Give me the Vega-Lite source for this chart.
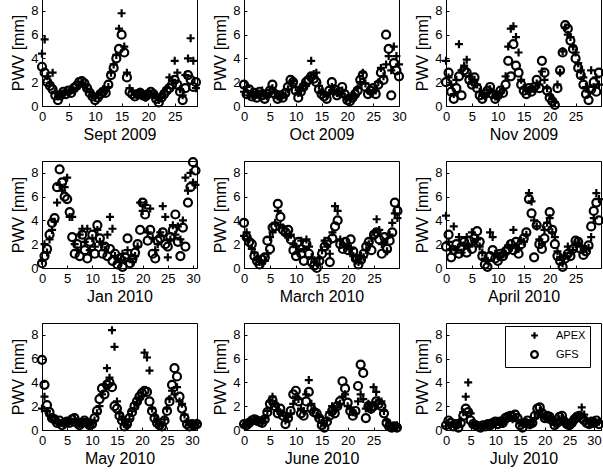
{
"$schema":"https://vega.github.io/schema/vega-lite/v6.json",
"background":"white",
"padding":{"left":10,"top":-2,"right":0,"bottom":0},
"columns":3,
"spacing":{"row":55,"column":47},
"bounds":"flush",
"resolve":{"scale":{"shape":"independent"},"legend":{"shape":"independent"}},
"datasets":{
"s1":[{"t":0,"a":4.4,"g":3.3},{"t":0.5,"a":5.6,"g":2.8},{"t":1,"a":2.5,"g":2.0},{"t":1.5,"a":1.9,"g":1.7},{"t":2,"a":2.8,"g":1.4},{"t":2.5,"a":1.2,"g":0.9},{"t":3,"a":0.8,"g":0.5},{"t":3.5,"a":1.1,"g":0.9},{"t":4,"a":1.0,"g":1.2},{"t":4.5,"a":1.3,"g":1.0},{"t":5,"a":1.1,"g":1.3},{"t":5.5,"a":1.4,"g":1.1},{"t":6,"a":1.3,"g":1.5},{"t":6.5,"a":1.5,"g":1.7},{"t":7,"a":1.8,"g":2.0},{"t":7.5,"a":1.9,"g":2.1},{"t":8,"a":1.7,"g":1.9},{"t":8.5,"a":1.4,"g":1.5},{"t":9,"a":1.2,"g":1.1},{"t":9.5,"a":0.9,"g":0.8},{"t":10,"a":0.7,"g":0.5},{"t":10.5,"a":0.9,"g":0.7},{"t":11,"a":1.2,"g":1.0},{"t":11.5,"a":1.4,"g":1.2},{"t":12,"a":1.3,"g":1.1},{"t":12.5,"a":1.6,"g":1.8},{"t":13,"a":2.8,"g":2.6},{"t":13.5,"a":3.5,"g":3.2},{"t":14,"a":4.3,"g":4.0},{"t":14.5,"a":6.5,"g":4.8},{"t":15,"a":7.8,"g":6.0},{"t":15.5,"a":5.0,"g":4.5},{"t":16,"a":2.8,"g":2.4},{"t":16.5,"a":1.5,"g":1.2},{"t":17,"a":1.2,"g":1.0},{"t":17.5,"a":1.0,"g":0.8},{"t":18,"a":0.9,"g":1.0},{"t":18.5,"a":1.2,"g":1.1},{"t":19,"a":1.0,"g":0.9},{"t":19.5,"a":0.7,"g":0.8},{"t":20,"a":1.1,"g":1.0},{"t":20.5,"a":1.0,"g":1.2},{"t":21,"a":0.9,"g":1.0},{"t":21.5,"a":0.8,"g":0.6},{"t":22,"a":0.5,"g":0.3},{"t":22.5,"a":0.8,"g":0.7},{"t":23,"a":1.2,"g":1.0},{"t":23.5,"a":1.5,"g":1.3},{"t":24,"a":2.4,"g":1.5},{"t":24.5,"a":2.2,"g":1.8},{"t":25,"a":3.8,"g":2.2},{"t":25.5,"a":2.8,"g":1.8},{"t":26,"a":1.4,"g":1.2},{"t":26.5,"a":0.9,"g":0.5},{"t":27,"a":2.6,"g":1.5},{"t":27.5,"a":4.0,"g":2.6},{"t":28,"a":5.7,"g":2.2},{"t":28.5,"a":3.8,"g":1.6},{"t":29,"a":1.5,"g":2.0}],
"s2":[{"t":0,"a":1.2,"g":1.8},{"t":0.5,"a":1.6,"g":1.0},{"t":1,"a":0.9,"g":1.4},{"t":1.5,"a":1.2,"g":0.8},{"t":2,"a":0.7,"g":1.1},{"t":2.5,"a":1.0,"g":0.7},{"t":3,"a":0.8,"g":1.2},{"t":3.5,"a":1.3,"g":0.9},{"t":4,"a":0.9,"g":0.6},{"t":4.5,"a":0.8,"g":1.0},{"t":5,"a":1.1,"g":1.3},{"t":5.5,"a":1.5,"g":1.8},{"t":6,"a":1.2,"g":1.0},{"t":6.5,"a":0.8,"g":0.6},{"t":7,"a":0.7,"g":0.9},{"t":7.5,"a":1.0,"g":0.7},{"t":8,"a":0.9,"g":1.1},{"t":8.5,"a":1.4,"g":1.6},{"t":9,"a":1.9,"g":2.2},{"t":9.5,"a":2.1,"g":2.0},{"t":10,"a":1.6,"g":1.3},{"t":10.5,"a":1.1,"g":0.7},{"t":11,"a":1.4,"g":1.2},{"t":11.5,"a":1.8,"g":1.6},{"t":12,"a":1.7,"g":2.0},{"t":12.5,"a":2.4,"g":2.2},{"t":13,"a":3.8,"g":2.5},{"t":13.5,"a":2.7,"g":2.3},{"t":14,"a":2.8,"g":2.0},{"t":14.5,"a":1.7,"g":1.4},{"t":15,"a":1.2,"g":1.0},{"t":15.5,"a":1.0,"g":0.8},{"t":16,"a":0.9,"g":0.6},{"t":16.5,"a":1.1,"g":1.3},{"t":17,"a":1.6,"g":2.0},{"t":17.5,"a":1.2,"g":1.4},{"t":18,"a":1.1,"g":0.9},{"t":18.5,"a":1.0,"g":1.2},{"t":19,"a":1.3,"g":1.6},{"t":19.5,"a":0.8,"g":1.0},{"t":20,"a":0.7,"g":0.5},{"t":20.5,"a":0.6,"g":0.4},{"t":21,"a":0.9,"g":0.7},{"t":21.5,"a":0.8,"g":1.0},{"t":22,"a":1.5,"g":1.3},{"t":22.5,"a":2.0,"g":2.2},{"t":23,"a":2.8,"g":2.6},{"t":23.5,"a":1.9,"g":1.6},{"t":24,"a":1.3,"g":1.0},{"t":24.5,"a":1.1,"g":1.3},{"t":25,"a":1.2,"g":1.5},{"t":25.5,"a":1.3,"g":1.0},{"t":26,"a":2.0,"g":1.8},{"t":26.5,"a":3.2,"g":2.8},{"t":27,"a":2.5,"g":2.2},{"t":27.5,"a":3.5,"g":6.0},{"t":28,"a":4.2,"g":4.8},{"t":28.5,"a":3.0,"g":0.9},{"t":29,"a":5.0,"g":3.6},{"t":29.5,"a":4.2,"g":3.0},{"t":30,"a":3.5,"g":2.5}],
"s3":[{"t":0,"a":3.8,"g":2.0},{"t":0.5,"a":2.4,"g":2.8},{"t":1,"a":1.8,"g":1.2},{"t":1.5,"a":1.0,"g":0.6},{"t":2,"a":2.2,"g":1.5},{"t":2.5,"a":5.2,"g":2.5},{"t":3,"a":3.0,"g":0.9},{"t":3.5,"a":3.4,"g":3.0},{"t":4,"a":3.9,"g":2.8},{"t":4.5,"a":2.5,"g":2.2},{"t":5,"a":2.0,"g":1.8},{"t":5.5,"a":2.2,"g":2.4},{"t":6,"a":1.8,"g":1.5},{"t":6.5,"a":1.2,"g":0.9},{"t":7,"a":0.9,"g":0.6},{"t":7.5,"a":0.8,"g":1.0},{"t":8,"a":1.1,"g":1.3},{"t":8.5,"a":1.4,"g":1.6},{"t":9,"a":1.2,"g":1.0},{"t":9.5,"a":0.8,"g":0.6},{"t":10,"a":0.7,"g":0.9},{"t":10.5,"a":1.1,"g":1.3},{"t":11,"a":1.4,"g":1.1},{"t":11.5,"a":2.5,"g":1.8},{"t":12,"a":5.0,"g":3.8},{"t":12.5,"a":6.5,"g":2.5},{"t":13,"a":6.7,"g":5.2},{"t":13.5,"a":5.8,"g":3.4},{"t":14,"a":4.5,"g":2.8},{"t":14.5,"a":2.2,"g":1.8},{"t":15,"a":1.5,"g":1.3},{"t":15.5,"a":1.3,"g":1.0},{"t":16,"a":1.2,"g":1.5},{"t":16.5,"a":1.6,"g":1.2},{"t":17,"a":1.4,"g":1.6},{"t":17.5,"a":1.9,"g":2.2},{"t":18,"a":1.8,"g":1.5},{"t":18.5,"a":2.9,"g":3.8},{"t":19,"a":2.2,"g":2.8},{"t":19.5,"a":1.5,"g":1.3},{"t":20,"a":0.9,"g":0.7},{"t":20.5,"a":0.6,"g":0.4},{"t":21,"a":0.3,"g":0.1},{"t":21.5,"a":1.8,"g":1.5},{"t":22,"a":2.8,"g":3.0},{"t":22.5,"a":4.6,"g":4.5},{"t":23,"a":6.6,"g":6.8},{"t":23.5,"a":6.0,"g":6.5},{"t":24,"a":5.8,"g":5.5},{"t":24.5,"a":5.0,"g":4.8},{"t":25,"a":4.5,"g":4.0},{"t":25.5,"a":3.6,"g":3.2},{"t":26,"a":3.0,"g":2.6},{"t":26.5,"a":2.4,"g":1.8},{"t":27,"a":1.6,"g":1.0},{"t":27.5,"a":1.2,"g":0.5},{"t":28,"a":3.0,"g":1.4},{"t":28.5,"a":1.6,"g":2.0},{"t":29,"a":2.4,"g":1.2},{"t":29.5,"a":1.8,"g":2.8}],
"s4":[{"t":0,"a":0.6,"g":0.4},{"t":0.5,"a":2.0,"g":1.0},{"t":1,"a":1.3,"g":1.6},{"t":1.5,"a":2.4,"g":2.8},{"t":2,"a":3.2,"g":3.8},{"t":2.5,"a":3.9,"g":4.2},{"t":3,"a":5.5,"g":6.8},{"t":3.5,"a":7.0,"g":8.3},{"t":4,"a":6.5,"g":7.2},{"t":4.5,"a":6.8,"g":6.0},{"t":5,"a":7.6,"g":5.8},{"t":5.5,"a":4.3,"g":4.7},{"t":6,"a":4.3,"g":2.6},{"t":6.5,"a":2.0,"g":1.2},{"t":7,"a":1.5,"g":2.0},{"t":7.5,"a":2.8,"g":1.0},{"t":8,"a":3.3,"g":2.8},{"t":8.5,"a":2.2,"g":1.5},{"t":9,"a":3.3,"g":0.8},{"t":9.5,"a":1.5,"g":2.2},{"t":10,"a":2.5,"g":2.8},{"t":10.5,"a":1.8,"g":1.2},{"t":11,"a":3.2,"g":3.6},{"t":11.5,"a":2.2,"g":2.5},{"t":12,"a":2.0,"g":1.2},{"t":12.5,"a":1.5,"g":1.8},{"t":13,"a":2.8,"g":1.0},{"t":13.5,"a":4.3,"g":1.6},{"t":14,"a":3.3,"g":0.6},{"t":14.5,"a":1.0,"g":1.2},{"t":15,"a":0.8,"g":0.3},{"t":15.5,"a":0.5,"g":0.8},{"t":16,"a":1.2,"g":0.1},{"t":16.5,"a":0.6,"g":0.9},{"t":17,"a":1.5,"g":2.5},{"t":17.5,"a":0.8,"g":0.4},{"t":18,"a":0.5,"g":0.8},{"t":18.5,"a":1.0,"g":1.3},{"t":19,"a":1.8,"g":2.0},{"t":19.5,"a":5.5,"g":3.2},{"t":20,"a":4.8,"g":5.5},{"t":20.5,"a":5.3,"g":4.5},{"t":21,"a":3.0,"g":2.3},{"t":21.5,"a":5.0,"g":3.2},{"t":22,"a":2.5,"g":1.2},{"t":22.5,"a":1.5,"g":0.8},{"t":23,"a":2.0,"g":2.3},{"t":23.5,"a":3.0,"g":2.5},{"t":24,"a":5.2,"g":3.0},{"t":24.5,"a":4.3,"g":2.0},{"t":25,"a":0.9,"g":1.8},{"t":25.5,"a":2.4,"g":2.6},{"t":26,"a":3.6,"g":3.2},{"t":26.5,"a":2.8,"g":4.5},{"t":27,"a":3.5,"g":2.2},{"t":27.5,"a":2.4,"g":1.0},{"t":28,"a":4.0,"g":3.4},{"t":28.5,"a":7.6,"g":1.8},{"t":29,"a":6.5,"g":5.5},{"t":29.5,"a":8.0,"g":6.8},{"t":30,"a":7.2,"g":8.9},{"t":30.5,"a":7.0,"g":8.2}],
"s5":[{"t":0,"a":2.7,"g":3.8},{"t":0.5,"a":3.0,"g":2.6},{"t":1,"a":2.4,"g":2.2},{"t":1.5,"a":1.6,"g":2.0},{"t":2,"a":1.3,"g":1.0},{"t":2.5,"a":0.8,"g":0.6},{"t":3,"a":0.5,"g":0.3},{"t":3.5,"a":0.4,"g":0.7},{"t":4,"a":0.6,"g":0.9},{"t":4.5,"a":1.2,"g":2.3},{"t":5,"a":2.6,"g":1.6},{"t":5.5,"a":3.0,"g":3.4},{"t":6,"a":3.8,"g":3.5},{"t":6.5,"a":4.8,"g":5.4},{"t":7,"a":3.6,"g":4.3},{"t":7.5,"a":3.4,"g":3.2},{"t":8,"a":2.8,"g":3.0},{"t":8.5,"a":2.6,"g":3.2},{"t":9,"a":2.8,"g":2.4},{"t":9.5,"a":2.0,"g":1.5},{"t":10,"a":1.8,"g":1.0},{"t":10.5,"a":1.4,"g":2.2},{"t":11,"a":2.3,"g":1.2},{"t":11.5,"a":1.6,"g":0.6},{"t":12,"a":2.4,"g":2.0},{"t":12.5,"a":1.8,"g":1.2},{"t":13,"a":0.9,"g":0.5},{"t":13.5,"a":0.5,"g":0.2},{"t":14,"a":0.4,"g":0.0},{"t":14.5,"a":0.8,"g":0.6},{"t":15,"a":1.5,"g":1.2},{"t":15.5,"a":2.3,"g":1.8},{"t":16,"a":1.8,"g":2.2},{"t":16.5,"a":1.2,"g":0.5},{"t":17,"a":3.0,"g":2.5},{"t":17.5,"a":5.2,"g":3.5},{"t":18,"a":4.8,"g":4.0},{"t":18.5,"a":2.4,"g":2.0},{"t":19,"a":2.0,"g":1.6},{"t":19.5,"a":1.8,"g":2.2},{"t":20,"a":1.9,"g":1.5},{"t":20.5,"a":1.6,"g":2.4},{"t":21,"a":1.0,"g":1.4},{"t":21.5,"a":0.6,"g":0.8},{"t":22,"a":0.5,"g":0.3},{"t":22.5,"a":1.0,"g":0.7},{"t":23,"a":0.9,"g":1.2},{"t":23.5,"a":1.5,"g":1.8},{"t":24,"a":2.0,"g":2.2},{"t":24.5,"a":2.5,"g":1.5},{"t":25,"a":3.0,"g":2.8},{"t":25.5,"a":4.1,"g":3.0},{"t":26,"a":3.2,"g":2.4},{"t":26.5,"a":2.0,"g":1.2},{"t":27,"a":2.2,"g":2.6},{"t":27.5,"a":1.4,"g":1.6},{"t":28,"a":2.8,"g":2.3},{"t":28.5,"a":3.8,"g":3.0},{"t":29,"a":4.6,"g":5.5},{"t":29.5,"a":4.2,"g":4.8}],
"s6":[{"t":0,"a":4.4,"g":1.8},{"t":0.5,"a":2.2,"g":2.8},{"t":1,"a":1.6,"g":0.9},{"t":1.5,"a":3.5,"g":1.5},{"t":2,"a":1.5,"g":2.0},{"t":2.5,"a":2.6,"g":1.2},{"t":3,"a":1.3,"g":1.8},{"t":3.5,"a":1.9,"g":2.2},{"t":4,"a":2.6,"g":1.3},{"t":4.5,"a":1.8,"g":2.3},{"t":5,"a":3.0,"g":1.6},{"t":5.5,"a":2.2,"g":2.5},{"t":6,"a":2.4,"g":3.1},{"t":6.5,"a":1.8,"g":2.2},{"t":7,"a":1.3,"g":1.0},{"t":7.5,"a":0.8,"g":0.3},{"t":8,"a":0.6,"g":0.1},{"t":8.5,"a":3.0,"g":1.0},{"t":9,"a":2.6,"g":1.5},{"t":9.5,"a":1.2,"g":0.8},{"t":10,"a":1.0,"g":0.6},{"t":10.5,"a":0.9,"g":1.2},{"t":11,"a":1.3,"g":1.0},{"t":11.5,"a":1.2,"g":1.4},{"t":12,"a":1.9,"g":1.6},{"t":12.5,"a":1.7,"g":2.0},{"t":13,"a":3.2,"g":1.5},{"t":13.5,"a":1.8,"g":2.2},{"t":14,"a":1.6,"g":1.2},{"t":14.5,"a":2.3,"g":2.0},{"t":15,"a":2.2,"g":2.5},{"t":15.5,"a":2.8,"g":3.0},{"t":16,"a":6.3,"g":5.8},{"t":16.5,"a":5.6,"g":4.6},{"t":17,"a":4.0,"g":0.9},{"t":17.5,"a":3.5,"g":3.6},{"t":18,"a":2.4,"g":2.0},{"t":18.5,"a":2.0,"g":1.6},{"t":19,"a":3.2,"g":2.5},{"t":19.5,"a":3.8,"g":3.5},{"t":20,"a":4.2,"g":4.7},{"t":20.5,"a":3.0,"g":3.2},{"t":21,"a":2.6,"g":2.0},{"t":21.5,"a":1.4,"g":1.0},{"t":22,"a":0.9,"g":0.6},{"t":22.5,"a":0.4,"g":0.1},{"t":23,"a":1.0,"g":0.8},{"t":23.5,"a":1.8,"g":1.2},{"t":24,"a":1.3,"g":1.0},{"t":24.5,"a":1.5,"g":1.6},{"t":25,"a":2.0,"g":2.3},{"t":25.5,"a":2.1,"g":2.2},{"t":26,"a":1.8,"g":1.6},{"t":26.5,"a":1.4,"g":1.1},{"t":27,"a":1.6,"g":1.4},{"t":27.5,"a":1.7,"g":1.9},{"t":28,"a":2.6,"g":3.5},{"t":28.5,"a":4.2,"g":4.8},{"t":29,"a":6.3,"g":5.5},{"t":29.5,"a":5.8,"g":4.0}],
"s7":[{"t":0,"a":1.8,"g":5.9},{"t":0.5,"a":2.8,"g":3.8},{"t":1,"a":1.6,"g":2.1},{"t":1.5,"a":1.2,"g":1.5},{"t":2,"a":1.1,"g":1.0},{"t":2.5,"a":0.8,"g":0.9},{"t":3,"a":0.7,"g":0.6},{"t":3.5,"a":0.5,"g":0.8},{"t":4,"a":0.6,"g":0.4},{"t":4.5,"a":0.5,"g":0.6},{"t":5,"a":0.6,"g":0.7},{"t":5.5,"a":0.8,"g":0.6},{"t":6,"a":0.7,"g":0.9},{"t":6.5,"a":0.9,"g":1.0},{"t":7,"a":0.7,"g":0.6},{"t":7.5,"a":0.5,"g":0.4},{"t":8,"a":0.6,"g":0.6},{"t":8.5,"a":0.7,"g":0.8},{"t":9,"a":0.5,"g":0.6},{"t":9.5,"a":0.4,"g":0.4},{"t":10,"a":0.6,"g":0.5},{"t":10.5,"a":0.8,"g":1.0},{"t":11,"a":1.4,"g":1.6},{"t":11.5,"a":2.0,"g":2.6},{"t":12,"a":3.0,"g":3.5},{"t":12.5,"a":3.8,"g":3.0},{"t":13,"a":5.2,"g":3.8},{"t":13.5,"a":4.4,"g":4.0},{"t":14,"a":8.4,"g":3.6},{"t":14.5,"a":7.0,"g":2.0},{"t":15,"a":2.4,"g":1.8},{"t":15.5,"a":1.4,"g":1.2},{"t":16,"a":0.9,"g":0.8},{"t":16.5,"a":0.5,"g":0.3},{"t":17,"a":0.4,"g":0.5},{"t":17.5,"a":0.9,"g":1.0},{"t":18,"a":1.6,"g":1.5},{"t":18.5,"a":1.8,"g":2.0},{"t":19,"a":2.2,"g":2.4},{"t":19.5,"a":2.6,"g":2.8},{"t":20,"a":2.9,"g":3.1},{"t":20.5,"a":6.5,"g":3.3},{"t":21,"a":6.1,"g":3.2},{"t":21.5,"a":5.0,"g":2.4},{"t":22,"a":1.8,"g":1.6},{"t":22.5,"a":1.2,"g":1.0},{"t":23,"a":0.8,"g":0.6},{"t":23.5,"a":0.5,"g":0.4},{"t":24,"a":0.4,"g":0.3},{"t":24.5,"a":0.9,"g":0.8},{"t":25,"a":1.8,"g":1.6},{"t":25.5,"a":2.6,"g":2.4},{"t":26,"a":3.3,"g":3.8},{"t":26.5,"a":3.0,"g":5.2},{"t":27,"a":3.6,"g":4.5},{"t":27.5,"a":2.4,"g":2.8},{"t":28,"a":2.2,"g":1.8},{"t":28.5,"a":1.3,"g":1.0},{"t":29,"a":0.7,"g":0.5},{"t":29.5,"a":0.5,"g":0.3},{"t":30,"a":0.4,"g":0.5},{"t":30.5,"a":0.5,"g":0.4},{"t":31,"a":0.6,"g":0.5}],
"s8":[{"t":0,"a":0.4,"g":0.5},{"t":0.5,"a":0.6,"g":0.4},{"t":1,"a":0.5,"g":0.6},{"t":1.5,"a":0.7,"g":0.8},{"t":2,"a":0.8,"g":0.9},{"t":2.5,"a":0.9,"g":0.8},{"t":3,"a":0.8,"g":0.7},{"t":3.5,"a":0.7,"g":0.6},{"t":4,"a":1.0,"g":0.9},{"t":4.5,"a":1.6,"g":1.5},{"t":5,"a":2.4,"g":2.2},{"t":5.5,"a":2.8,"g":2.5},{"t":6,"a":2.2,"g":2.0},{"t":6.5,"a":1.6,"g":1.4},{"t":7,"a":1.5,"g":1.8},{"t":7.5,"a":1.4,"g":1.2},{"t":8,"a":0.8,"g":0.5},{"t":8.5,"a":1.1,"g":1.0},{"t":9,"a":1.4,"g":1.6},{"t":9.5,"a":2.2,"g":3.0},{"t":10,"a":2.8,"g":3.3},{"t":10.5,"a":2.6,"g":2.4},{"t":11,"a":1.8,"g":1.4},{"t":11.5,"a":1.6,"g":1.2},{"t":12,"a":3.0,"g":2.4},{"t":12.5,"a":4.2,"g":3.2},{"t":13,"a":2.2,"g":1.8},{"t":13.5,"a":1.7,"g":1.5},{"t":14,"a":1.2,"g":1.4},{"t":14.5,"a":1.1,"g":1.0},{"t":15,"a":0.6,"g":0.4},{"t":15.5,"a":0.4,"g":0.2},{"t":16,"a":0.8,"g":0.7},{"t":16.5,"a":1.5,"g":1.2},{"t":17,"a":2.0,"g":1.6},{"t":17.5,"a":1.6,"g":1.4},{"t":18,"a":1.9,"g":2.0},{"t":18.5,"a":2.2,"g":2.4},{"t":19,"a":2.8,"g":4.1},{"t":19.5,"a":3.0,"g":3.5},{"t":20,"a":2.0,"g":2.3},{"t":20.5,"a":1.8,"g":1.6},{"t":21,"a":1.5,"g":1.2},{"t":21.5,"a":1.4,"g":1.6},{"t":22,"a":2.4,"g":3.7},{"t":22.5,"a":3.0,"g":5.5},{"t":23,"a":2.6,"g":4.8},{"t":23.5,"a":1.8,"g":1.0},{"t":24,"a":2.2,"g":2.0},{"t":24.5,"a":1.7,"g":1.8},{"t":25,"a":3.6,"g":2.0},{"t":25.5,"a":3.2,"g":2.4},{"t":26,"a":2.5,"g":2.2},{"t":26.5,"a":2.4,"g":2.0},{"t":27,"a":1.6,"g":1.4},{"t":27.5,"a":0.8,"g":0.6},{"t":28,"a":0.4,"g":0.3},{"t":28.5,"a":0.3,"g":0.2},{"t":29,"a":0.3,"g":0.3},{"t":29.5,"a":0.4,"g":0.2}],
"s9":[{"t":0,"a":0.3,"g":0.4},{"t":0.5,"a":0.6,"g":0.8},{"t":1,"a":0.4,"g":0.6},{"t":1.5,"a":0.5,"g":0.3},{"t":2,"a":0.3,"g":0.5},{"t":2.5,"a":0.4,"g":0.2},{"t":3,"a":0.8,"g":0.6},{"t":3.5,"a":1.5,"g":1.2},{"t":4,"a":2.8,"g":1.8},{"t":4.5,"a":4.0,"g":1.5},{"t":5,"a":1.4,"g":0.8},{"t":5.5,"a":0.6,"g":0.5},{"t":6,"a":0.3,"g":0.4},{"t":6.5,"a":0.4,"g":0.3},{"t":7,"a":0.3,"g":0.2},{"t":7.5,"a":0.3,"g":0.4},{"t":8,"a":0.5,"g":0.3},{"t":8.5,"a":0.4,"g":0.5},{"t":9,"a":0.3,"g":0.4},{"t":9.5,"a":0.5,"g":0.6},{"t":10,"a":0.6,"g":0.7},{"t":10.5,"a":0.7,"g":0.5},{"t":11,"a":0.6,"g":0.7},{"t":11.5,"a":0.5,"g":0.6},{"t":12,"a":0.8,"g":1.0},{"t":12.5,"a":0.9,"g":1.1},{"t":13,"a":1.0,"g":1.2},{"t":13.5,"a":0.9,"g":1.1},{"t":14,"a":1.0,"g":1.3},{"t":14.5,"a":0.8,"g":1.0},{"t":15,"a":0.6,"g":0.4},{"t":15.5,"a":0.4,"g":0.2},{"t":16,"a":0.5,"g":0.6},{"t":16.5,"a":0.6,"g":0.8},{"t":17,"a":0.4,"g":0.5},{"t":17.5,"a":0.7,"g":0.6},{"t":18,"a":1.0,"g":1.2},{"t":18.5,"a":1.4,"g":1.8},{"t":19,"a":1.6,"g":1.9},{"t":19.5,"a":1.2,"g":1.4},{"t":20,"a":1.1,"g":1.0},{"t":20.5,"a":0.9,"g":1.2},{"t":21,"a":1.0,"g":1.1},{"t":21.5,"a":0.7,"g":0.8},{"t":22,"a":0.5,"g":0.4},{"t":22.5,"a":0.5,"g":0.6},{"t":23,"a":0.9,"g":1.1},{"t":23.5,"a":1.0,"g":1.2},{"t":24,"a":0.6,"g":0.7},{"t":24.5,"a":0.4,"g":0.5},{"t":25,"a":0.5,"g":0.4},{"t":25.5,"a":0.5,"g":0.6},{"t":26,"a":0.8,"g":0.9},{"t":26.5,"a":1.0,"g":1.1},{"t":27,"a":1.1,"g":1.2},{"t":27.5,"a":1.9,"g":1.0},{"t":28,"a":1.3,"g":0.8},{"t":28.5,"a":0.8,"g":0.6},{"t":29,"a":0.7,"g":0.5},{"t":29.5,"a":0.6,"g":0.7},{"t":30,"a":0.8,"g":0.6},{"t":30.5,"a":0.6,"g":0.8},{"t":31,"a":0.7,"g":0.5}]
},
"concat":[
{"data":{"name":"s1"},"transform":[{"fold":["a","g"],"as":["s","v"]}],"mark":"point","encoding":{"x":{"field":"t","type":"quantitative","scale":{"domain":[0,29.2],"nice":false,"zero":false},"axis":{"values":[0,5,10,15,20,25],"title":"Sept 2009"}},"y":{"field":"v","type":"quantitative","scale":{"domain":[0,9],"nice":false},"axis":{"values":[0,2,4,6,8],"title":"PWV [mm]"}},"shape":{"field":"s","type":"nominal","scale":{"domain":["a","g"],"range":["M-1,0H1M0,-1V1","circle"]},"legend":null}}},
{"data":{"name":"s2"},"transform":[{"fold":["a","g"],"as":["s","v"]}],"mark":"point","encoding":{"x":{"field":"t","type":"quantitative","scale":{"domain":[0,30],"nice":false,"zero":false},"axis":{"values":[0,5,10,15,20,25,30],"title":"Oct 2009"}},"y":{"field":"v","type":"quantitative","scale":{"domain":[0,9],"nice":false},"axis":{"values":[0,2,4,6,8],"title":"PWV [mm]"}},"shape":{"field":"s","type":"nominal","scale":{"domain":["a","g"],"range":["M-1,0H1M0,-1V1","circle"]},"legend":null}}},
{"data":{"name":"s3"},"transform":[{"fold":["a","g"],"as":["s","v"]}],"mark":"point","encoding":{"x":{"field":"t","type":"quantitative","scale":{"domain":[0,29.9],"nice":false,"zero":false},"axis":{"values":[0,5,10,15,20,25],"title":"Nov 2009"}},"y":{"field":"v","type":"quantitative","scale":{"domain":[0,9],"nice":false},"axis":{"values":[0,2,4,6,8],"title":"PWV [mm]"}},"shape":{"field":"s","type":"nominal","scale":{"domain":["a","g"],"range":["M-1,0H1M0,-1V1","circle"]},"legend":null}}},
{"data":{"name":"s4"},"transform":[{"fold":["a","g"],"as":["s","v"]}],"mark":"point","encoding":{"x":{"field":"t","type":"quantitative","scale":{"domain":[0,30.8],"nice":false,"zero":false},"axis":{"values":[0,5,10,15,20,25,30],"title":"Jan 2010"}},"y":{"field":"v","type":"quantitative","scale":{"domain":[0,9],"nice":false},"axis":{"values":[0,2,4,6,8],"title":"PWV [mm]"}},"shape":{"field":"s","type":"nominal","scale":{"domain":["a","g"],"range":["M-1,0H1M0,-1V1","circle"]},"legend":null}}},
{"data":{"name":"s5"},"transform":[{"fold":["a","g"],"as":["s","v"]}],"mark":"point","encoding":{"x":{"field":"t","type":"quantitative","scale":{"domain":[0,29.8],"nice":false,"zero":false},"axis":{"values":[0,5,10,15,20,25],"title":"March 2010"}},"y":{"field":"v","type":"quantitative","scale":{"domain":[0,9],"nice":false},"axis":{"values":[0,2,4,6,8],"title":"PWV [mm]"}},"shape":{"field":"s","type":"nominal","scale":{"domain":["a","g"],"range":["M-1,0H1M0,-1V1","circle"]},"legend":null}}},
{"data":{"name":"s6"},"transform":[{"fold":["a","g"],"as":["s","v"]}],"mark":"point","encoding":{"x":{"field":"t","type":"quantitative","scale":{"domain":[0,29.9],"nice":false,"zero":false},"axis":{"values":[0,5,10,15,20,25],"title":"April 2010"}},"y":{"field":"v","type":"quantitative","scale":{"domain":[0,9],"nice":false},"axis":{"values":[0,2,4,6,8],"title":"PWV [mm]"}},"shape":{"field":"s","type":"nominal","scale":{"domain":["a","g"],"range":["M-1,0H1M0,-1V1","circle"]},"legend":null}}},
{"data":{"name":"s7"},"transform":[{"fold":["a","g"],"as":["s","v"]}],"mark":"point","encoding":{"x":{"field":"t","type":"quantitative","scale":{"domain":[0,31],"nice":false,"zero":false},"axis":{"values":[0,5,10,15,20,25,30],"title":"May 2010"}},"y":{"field":"v","type":"quantitative","scale":{"domain":[0,9],"nice":false},"axis":{"values":[0,2,4,6,8],"title":"PWV [mm]"}},"shape":{"field":"s","type":"nominal","scale":{"domain":["a","g"],"range":["M-1,0H1M0,-1V1","circle"]},"legend":null}}},
{"data":{"name":"s8"},"transform":[{"fold":["a","g"],"as":["s","v"]}],"mark":"point","encoding":{"x":{"field":"t","type":"quantitative","scale":{"domain":[0,29.9],"nice":false,"zero":false},"axis":{"values":[0,5,10,15,20,25],"title":"June 2010"}},"y":{"field":"v","type":"quantitative","scale":{"domain":[0,9],"nice":false},"axis":{"values":[0,2,4,6,8],"title":"PWV [mm]"}},"shape":{"field":"s","type":"nominal","scale":{"domain":["a","g"],"range":["M-1,0H1M0,-1V1","circle"]},"legend":null}}},
{"data":{"name":"s9"},"transform":[{"fold":["a","g"],"as":["s","v"]}],"mark":"point","encoding":{"x":{"field":"t","type":"quantitative","scale":{"domain":[0,31.4],"nice":false,"zero":false},"axis":{"values":[0,5,10,15,20,25,30],"title":"July 2010"}},"y":{"field":"v","type":"quantitative","scale":{"domain":[0,9],"nice":false},"axis":{"values":[0,2,4,6,8],"title":"PWV [mm]"}},"shape":{"field":"s","type":"nominal","scale":{"domain":["a","g"],"range":["M-1,0H1M0,-1V1","circle"]},"legend":{"orient":"none","legendX":59,"legendY":3,"title":null,"strokeColor":"black","fillColor":"white","padding":4,"cornerRadius":0,"labelFont":"Liberation Sans","labelFontSize":11,"labelColor":"black","symbolSize":45,"symbolStrokeWidth":2,"symbolStrokeColor":"black","symbolOpacity":1,"symbolOffset":20,"labelOffset":16,"rowPadding":2,"labelExpr":"datum.label == 'a' ? 'APEX' : 'GFS'"}}}}
],
"config":{
"view":{"continuousWidth":155,"continuousHeight":107,"stroke":"black","strokeWidth":1},
"point":{"filled":false,"color":"black","opacity":1,"size":64,"strokeWidth":2.2},
"axis":{"labelFont":"Liberation Sans","titleFont":"Liberation Sans","labelFontSize":13,"titleFontSize":16,"titleFontWeight":"normal","labelColor":"black","titleColor":"black","tickColor":"black","domainColor":"black","grid":false,"tickSize":-3,"labelPadding":7,"labelFlush":false,"labelOverlap":false},
"axisX":{"titlePadding":3},
"axisY":{"titlePadding":4}
}
}
